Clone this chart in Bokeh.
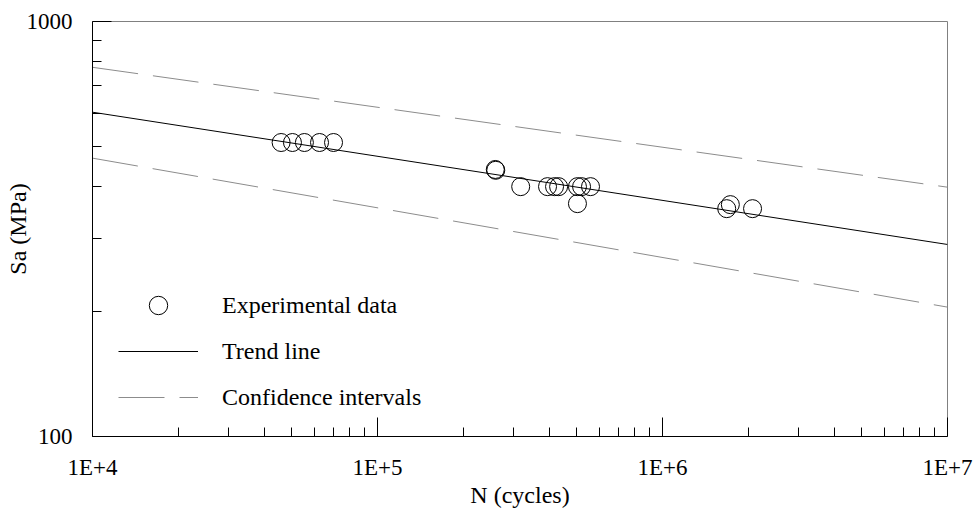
from bokeh.plotting import figure
from bokeh.models import FixedTicker, Legend, LegendItem, Range1d
from bokeh.embed import file_html
from bokeh.resources import INLINE

# ---- data ----
N_exp = [4.59e4, 5.03e4, 5.54e4, 6.26e4, 7.01e4,
         2.59e5, 2.60e5, 3.18e5, 3.95e5, 4.18e5, 4.32e5, 5.03e5, 5.20e5, 5.59e5, 5.03e5,
         1.73e6, 1.68e6, 2.07e6]
Sa_exp = [511, 511, 511, 511, 511,
          440, 438, 400, 400, 400, 400, 400, 400, 400, 364,
          362, 354, 354]

line_N = [1e4, 1e7]
trend_Sa = [604.6, 290.2]
upper_Sa = [775.6, 398.8]
lower_Sa = [468.5, 205.0]

x_ticks = [1e4, 1e5, 1e6, 1e7]
x_tick_labels = ["1E+4", "1E+5", "1E+6", "1E+7"]
x_minor = [m * d for d in (1e4, 1e5, 1e6) for m in range(2, 10)]
y_ticks = [100, 1000]
y_tick_labels = ["100", "1000"]
y_minor = [200, 300, 400, 500, 600, 700, 800, 900]

FONT = "Liberation Serif"

p = figure(width=976, height=510, x_axis_type="log", y_axis_type="log",
           x_range=Range1d(1e4, 1e7), y_range=Range1d(100, 1000),
           output_backend="svg", toolbar_location=None,
           min_border_left=92, min_border_right=29, min_border_top=21, min_border_bottom=74)

p.xgrid.visible = False
p.ygrid.visible = False
p.outline_line_color = "#808080"
p.outline_line_width = 1
p.background_fill_color = "white"
p.border_fill_color = "white"

up = p.line(line_N, upper_Sa, line_color="#8c8c8c", line_width=1, line_dash="46 15")
lo = p.line(line_N, lower_Sa, line_color="#8c8c8c", line_width=1, line_dash="46 15")
tr = p.line(line_N, trend_Sa, line_color="black", line_width=1)
sc = p.scatter(N_exp, Sa_exp, marker="circle", size=18, fill_color=None,
               line_color="black", line_width=1)

for ax, ticks, minor, labels in ((p.xaxis[0], x_ticks, x_minor, x_tick_labels),
                                 (p.yaxis[0], y_ticks, y_minor, y_tick_labels)):
    ax.ticker = FixedTicker(ticks=ticks, minor_ticks=minor)
    ax.major_label_overrides = {t: l for t, l in zip(ticks, labels)}
    ax.major_tick_in = 19
    ax.major_tick_out = 0
    ax.minor_tick_in = 9
    ax.minor_tick_out = 0
    ax.axis_line_color = "black"
    ax.major_tick_line_color = "black"
    ax.minor_tick_line_color = "black"
    ax.major_label_text_font = FONT
    ax.major_label_text_font_size = "23px"
    ax.major_label_text_color = "black"
    ax.axis_label_text_font = FONT
    ax.axis_label_text_font_size = "24px"
    ax.axis_label_text_font_style = "normal"
    ax.axis_label_text_color = "black"

p.xaxis.axis_label = "N (cycles)"
p.yaxis.axis_label = "Sa (MPa)"
p.xaxis.major_label_standoff = 18
p.xaxis.axis_label_standoff = -1
p.yaxis.major_label_standoff = 20
p.yaxis.axis_label_standoff = -7

legend = Legend(items=[LegendItem(label="Experimental data", renderers=[sc]),
                       LegendItem(label="Trend line", renderers=[tr]),
                       LegendItem(label="Confidence intervals", renderers=[up])],
                location=(26, 16))
legend.label_text_font = FONT
legend.label_text_font_size = "24px"
legend.label_text_color = "black"
legend.border_line_color = None
legend.background_fill_alpha = 0
legend.padding = 0
legend.margin = 0
legend.spacing = 0
legend.glyph_width = 80
legend.glyph_height = 46
legend.label_height = 46
legend.label_standoff = 24
p.add_layout(legend)

open("out.html", "w").write(file_html(p, INLINE))
